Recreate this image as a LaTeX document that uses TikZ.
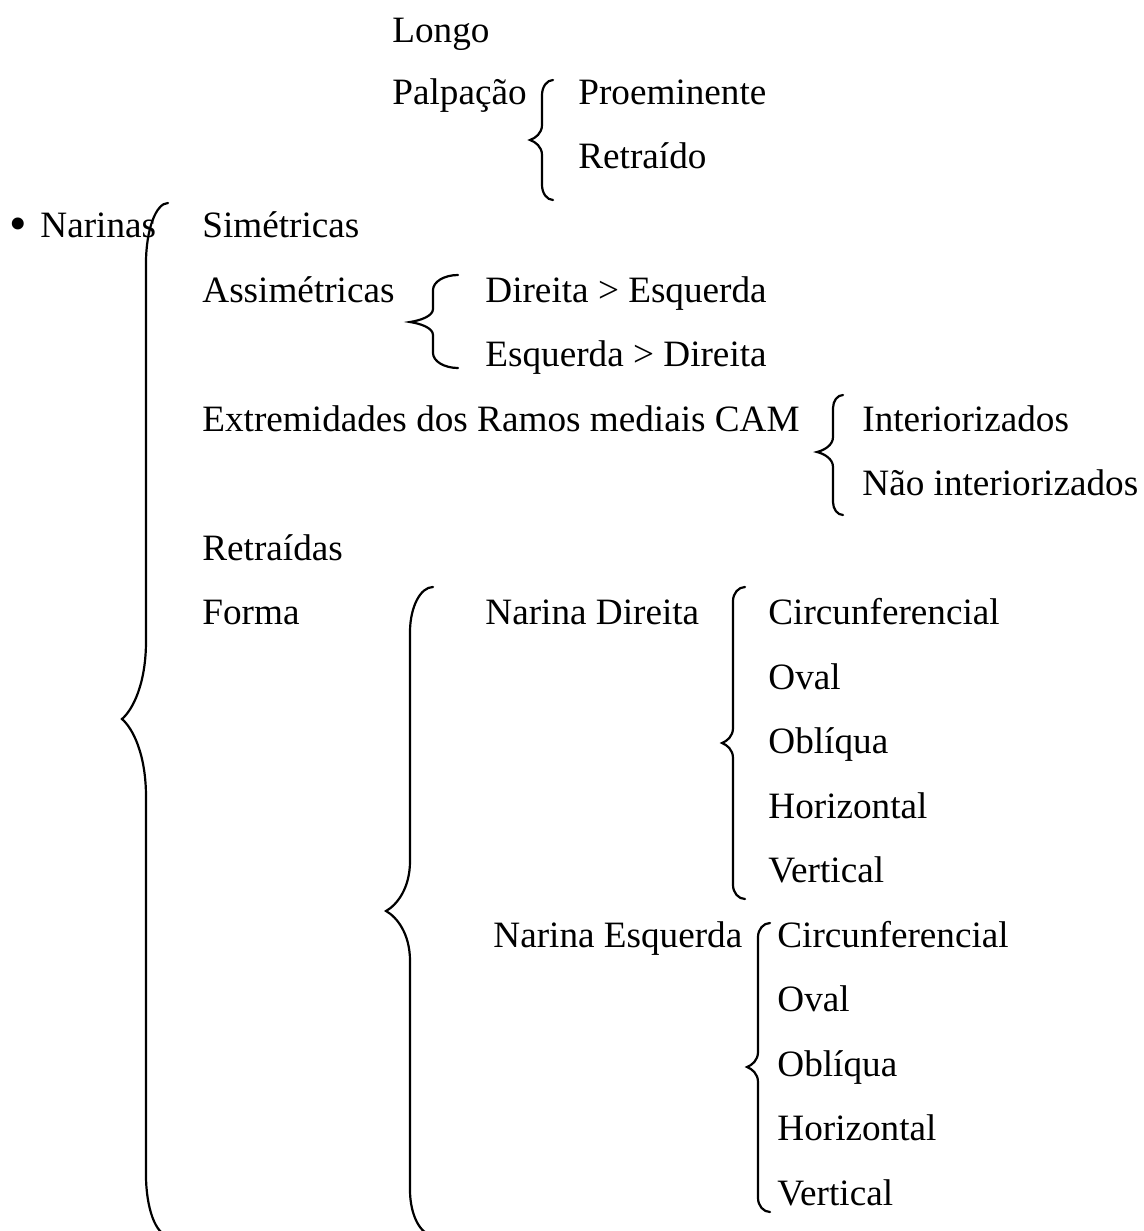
\documentclass[tikz,border=0pt]{standalone}
\usepackage{fontspec}
\setmainfont{Liberation Serif}
% Word-style brace: #1 tip x, #2 line x, #3 end x, #4 top y, #5 cusp y, #6 bottom y, #7 end radius, #8 cusp radius
\newcommand{\wordbrace}[8]{%
  \draw[bracestyle] (#3,#4)
    .. controls ({#2+0.45*(#3-#2)},#4) and (#2,{#4+0.45*#7}) .. (#2,{#4+#7})
    -- (#2,{#5-#8})
    .. controls (#2,{#5-0.45*#8}) and ({#1+0.45*(#2-#1)},{#5-0.12*#8}) .. (#1,#5)
    .. controls ({#1+0.45*(#2-#1)},{#5+0.12*#8}) and (#2,{#5+0.45*#8}) .. (#2,{#5+#8})
    -- (#2,{#6-#7})
    .. controls (#2,{#6-0.45*#7}) and ({#2+0.45*(#3-#2)},#6) .. (#3,#6);}
\begin{document}
\begin{tikzpicture}[x=0.5pt,y=-0.5pt,
  lbl/.style={anchor=base west,inner sep=0pt,font=\fontsize{18.6}{22}\selectfont},
  bracestyle/.style={line width=1.1pt,line cap=round}]
\useasboundingbox (0,0) rectangle (1144,1231);
% texts
\node[lbl] (longo) at (392,42) {Longo};
\node[lbl] (palp) at (392,104) {Palpação};
\node[lbl] (proem) at (578,104) {Proeminente};
\node[lbl] (retr) at (578,168) {Retraído};
\node[lbl,font=\fontsize{25}{25}\selectfont] (bullet) at (9,240) {•};
\node[lbl] (narinas) at (40,237.5) {Narinas};
\node[lbl] (sim) at (202,237.5) {Simétricas};
\node[lbl] (assim) at (202,302) {Assimétricas};
\node[lbl] (de) at (485,302) {Direita > Esquerda};
\node[lbl] (ed) at (485,366.5) {Esquerda > Direita};
\node[lbl] (extr) at (202,431) {Extremidades dos Ramos mediais CAM};
\node[lbl] (inter) at (862,431) {Interiorizados};
\node[lbl] (naoint) at (862,495.5) {Não interiorizados};
\node[lbl] (retrd) at (202,560) {Retraídas};
\node[lbl] (forma) at (202,624.5) {Forma};
\node[lbl] (nd) at (485,624.5) {Narina Direita};
\node[lbl] (ndc) at (768,624.5) {Circunferencial};
\node[lbl] (ndo) at (768,689) {Oval};
\node[lbl] (ndob) at (768,753.5) {Oblíqua};
\node[lbl] (ndh) at (768,818) {Horizontal};
\node[lbl] (ndv) at (768,882.5) {Vertical};
\node[lbl] (ne) at (493,947) {Narina Esquerda};
\node[lbl] (nec) at (777,947) {Circunferencial};
\node[lbl] (neo) at (777,1011.5) {Oval};
\node[lbl] (neob) at (777,1076) {Oblíqua};
\node[lbl] (neh) at (777,1140.5) {Horizontal};
\node[lbl] (nev) at (777,1205) {Vertical};
% braces
\wordbrace{530}{542}{553}{80}{140}{200}{15}{15}
\wordbrace{122}{146}{168}{203}{719}{1235}{60}{78}
\wordbrace{410}{433}{458}{275}{322}{368}{15}{13}
\wordbrace{817}{833}{843}{395}{452}{515}{13}{15}
\wordbrace{386}{410}{433}{587}{911}{1235}{45}{50}
\wordbrace{722}{733}{745}{587}{743}{899}{14}{15}
\wordbrace{747}{758}{770}{923}{1067}{1212}{14}{15}
\end{tikzpicture}
\end{document}
